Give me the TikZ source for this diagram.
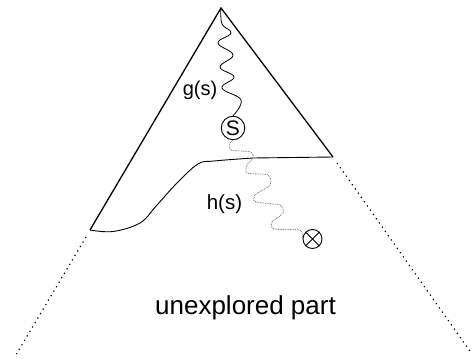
\documentclass[tikz,border=0pt]{standalone}
\usepackage{fontspec}
\setmainfont{Liberation Sans}
\begin{document}
\begin{tikzpicture}[x=1pt,y=-1pt,
  edge/.style={line width=1.3pt},
  farline/.style={line width=1.2pt, dash pattern=on 1.2pt off 4pt},
  frontier/.style={line width=0.9pt},
  gpath/.style={line width=0.8pt},
  hpath/.style={line width=0.9pt, gray, dash pattern=on 0.8pt off 0.9pt},
  lab/.style={inner sep=0pt}]
\useasboundingbox (0,0) rectangle (475,359);
\coordinate (apex) at (221,8);
\coordinate (L) at (90,230);
\coordinate (R) at (333,157);
\coordinate (Lf) at (16.5,354);
\coordinate (Rf) at (472,354);
\coordinate (Ls) at (86,237);
\coordinate (Rs) at (337,163);
\node[draw, circle, line width=0.9pt, inner sep=0pt, minimum size=23.5pt, font=\fontsize{21}{21}\selectfont] (S) at (233,128) {S};
\node[draw, circle, line width=0.9pt, inner sep=0pt, minimum size=19pt] (G) at (312.5,239) {};
\draw[line width=0.9pt] (G.45) -- (G.225) (G.135) -- (G.315);
\draw[edge] (L) -- (apex) -- (R);
\draw[farline] (Ls) -- (Lf);
\draw[farline] (Rs) -- (Rf);
\draw[frontier] plot[smooth, tension=0.6] coordinates {(L) (113,231.5) (140,223) (157,205) (177,183) (198,164) (214,161) (253,158)} -- (R);
\draw[gpath] plot[smooth, tension=0.7] coordinates {(apex) (222,24) (231,33) (218,43) (233,55) (220,67) (234,77) (222,88) (241,100) (S.north)};
\draw[hpath] plot[smooth, tension=0.45] coordinates {(S.south) (230,143) (231,150) (251,152) (253,158) (247,165) (247,173) (268,175) (270,185) (255,195) (256,202) (280,205) (283,213) (272,222) (274,229) (300,230) (G.west)};
\node[lab, font=\fontsize{20}{20}\selectfont] (g) at (200,90) {g(s)};
\node[lab, font=\fontsize{20.5}{20}\selectfont] (h) at (224.5,204) {h(s)};
\node[lab, font=\fontsize{26}{26}\selectfont] (u) at (245.5,308) {unexplored part};
\end{tikzpicture}
\end{document}
